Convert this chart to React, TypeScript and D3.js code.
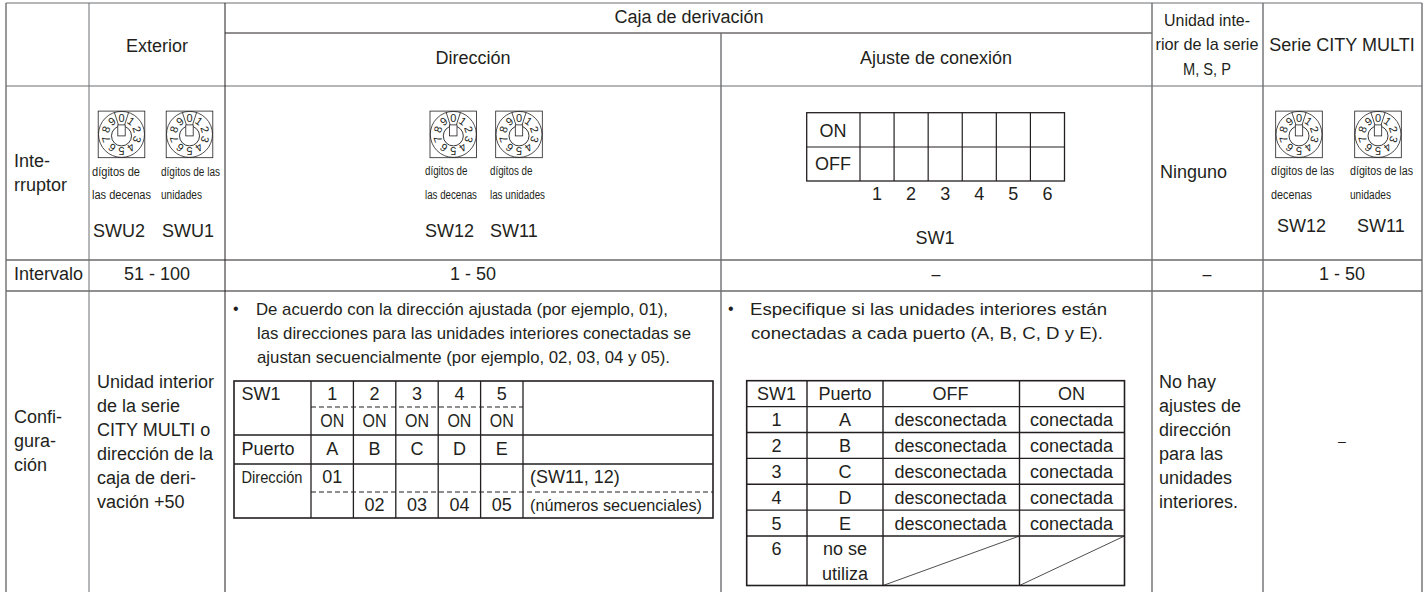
import * as d3 from "d3";

const W = 1428;
const H = 592;
const INK = "#231f20";
const GREY = "#6d6e70";
const FONT = "'Liberation Sans', Arial, sans-serif";

// table content
const dialDigits = ["0", "1", "2", "3", "4", "5", "6", "7", "8", "9"];
const switchNumbers = ["1", "2", "3", "4", "5", "6"];
const swColumns = ["1", "2", "3", "4", "5"];
const swPorts = ["A", "B", "C", "D", "E"];
const swAddressRow = ["02", "03", "04", "05"];
const portRows = ["1", "2", "3", "4", "5"];
const noteAddress = [
  "De acuerdo con la dirección ajustada (por ejemplo, 01),",
  "las direcciones para las unidades interiores conectadas se",
  "ajustan secuencialmente (por ejemplo, 02, 03, 04 y 05).",
];
const noteConnection = [
  "Especifique si las unidades interiores están",
  "conectadas a cada puerto (A, B, C, D y E).",
];
const outdoorConfig = ["Unidad interior", "de la serie", "CITY MULTI o", "dirección de la", "caja de deri-", "vación +50"];
const configLabel = ["Confi-", "gura-", "ción"];
const indoorConfig = ["No hay", "ajustes de", "dirección", "para las", "unidades", "interiores."];
const indoorHeader = ["Unidad inte-", "rior de la serie", "M, S, P"];

// page grid
const colKeys = ["left", "exterior", "caja", "ajuste", "indoor", "city", "right"];
const colEdges = [6, 89, 225, 721, 1152, 1263, 1422];
const rowKeys = ["top", "sub", "head", "switch", "range", "bottom"];
const rowEdges = [3, 33, 86, 260, 291, H];
const cx = d3.scaleOrdinal<string, number>(colKeys, colEdges);
const cy = d3.scaleOrdinal<string, number>(rowKeys, rowEdges);

// nested tables
const swX = d3.scaleBand<string>(swColumns, [311, 523]);
const portY = d3.scaleLinear([0, 6], [380.7, 536]);
const dipX = d3.scaleBand<string>(switchNumbers, [860, 1064.5]);
const angle = d3.scaleBand<string>(dialDigits, [-Math.PI / 10, 2 * Math.PI - Math.PI / 10]);

function T({ x, y, size = 18, anchor = "start", width, children }: any) {
  return (
    <text
      x={x}
      y={y}
      fontSize={size}
      textAnchor={anchor}
      fill={INK}
      fontFamily={FONT}
      {...(width ? { textLength: width, lengthAdjust: "spacingAndGlyphs" } : {})}
    >
      {children}
    </text>
  );
}

function L({ x1, y1, x2, y2, w = 1, c = INK, dash }: any) {
  return <line x1={x1} y1={y1} x2={x2} y2={y2} stroke={c} strokeWidth={w} strokeDasharray={dash} />;
}

function Dial({ x, y }: { x: number; y: number }) {
  const r = 23;
  return (
    <g transform={`translate(${x},${y})`}>
      <rect x={-23.3} y={-23.3} width={46.6} height={46.6} fill="#fff" stroke={INK} strokeWidth={0.8} />
      <circle r={r} fill="none" stroke={INK} strokeWidth={0.8} />
      <circle cy={1.5} r={10} fill="none" stroke={INK} strokeWidth={0.9} />
      {[0, 1].map((i) => {
        const a = angle(dialDigits[i])!;
        const [x0, y0] = d3.pointRadial(a, 10);
        const [x1, y1] = d3.pointRadial(a, r);
        return <L key={i} x1={x0} y1={y0} x2={x1} y2={y1} w={0.8} />;
      })}
      <rect x={-3.7} y={-9.5} width={7.4} height={11} fill="#fff" stroke={INK} strokeWidth={0.8} />
      {dialDigits.map((d) => {
        const a = angle(d)! + angle.bandwidth() / 2;
        const [px, py] = d3.pointRadial(a, 16.3);
        return (
          <text
            key={d}
            transform={`translate(${px},${py}) rotate(${(a * 180) / Math.PI})`}
            textAnchor="middle"
            dy="0.36em"
            fontSize={11}
            fill={INK}
            fontFamily={FONT}
          >
            {d}
          </text>
        );
      })}
    </g>
  );
}

export default function App() {
  const rowBottoms = d3.range(portRows.length + 1);
  const tableLeft = 234;
  const tableRight = 713;
  const portCols = [746.7, 807, 883, 1019.5, 1124.5];
  const sw1Rows = [381, 435, 464, 518];
  const noteAddressWidths = [412, 434, 413];
  const noteConnectionWidths = [357, 352];
  return (
    <svg width={W} height={H} style={{ position: "absolute", left: 0, top: 0, background: "#fff" }}>
      {/* main grid */}
      <L x1={cx("left")} y1={cy("top")} x2={cx("right")} y2={cy("top")} w={1.2} c={GREY} />
      <L x1={cx("caja")} y1={cy("sub")} x2={cx("indoor")} y2={cy("sub")} c={INK} />
      <L x1={cx("left")} y1={cy("head")} x2={cx("right")} y2={cy("head")} w={1.2} c={GREY} />
      <L x1={cx("left")} y1={cy("switch")} x2={cx("right")} y2={cy("switch")} />
      <L x1={cx("left")} y1={cy("range")} x2={cx("right")} y2={cy("range")} />
      {colKeys.map((k) => (
        <L
          key={k}
          x1={cx(k)}
          y1={k === "ajuste" ? cy("sub") : cy("top")}
          x2={cx(k)}
          y2={cy("bottom")}
          w={k === "exterior" || k === "caja" ? 1 : 1.4}
          c={k === "caja" ? INK : GREY}
        />
      ))}

      {/* header */}
      <T x={157} y={52} anchor="middle">Exterior</T>
      <T x={689} y={23} anchor="middle">Caja de derivación</T>
      <T x={473} y={64} anchor="middle">Dirección</T>
      <T x={936} y={64} anchor="middle">Ajuste de conexión</T>
      {indoorHeader.map((s, i) => (
        <T key={s} x={1207} y={[26, 50, 75][i]} anchor="middle" size={17} width={[86, 103, 48][i]}>{s}</T>
      ))}
      <T x={1342} y={51} anchor="middle">Serie CITY MULTI</T>

      {/* switch row */}
      <T x={14} y={167}>Inte-</T>
      <T x={14} y={191}>rruptor</T>
      <Dial x={121.5} y={134.4} />
      <Dial x={189.5} y={134.4} />
      <Dial x={453.3} y={134.4} />
      <Dial x={519} y={134.4} />
      <Dial x={1299} y={134.4} />
      <Dial x={1378} y={134.4} />
      <T x={92} y={176} size={12.5} width={48}>dígitos de</T>
      <T x={92} y={199} size={12.5} width={59}>las decenas</T>
      <T x={161} y={176} size={12.5} width={59}>dígitos de las</T>
      <T x={161} y={199} size={12.5} width={41}>unidades</T>
      <T x={93} y={237}>SWU2</T>
      <T x={162} y={237}>SWU1</T>
      <T x={425} y={175} size={12.5} width={42.5}>dígitos de</T>
      <T x={425} y={198.5} size={12.5} width={52}>las decenas</T>
      <T x={490} y={175} size={12.5} width={42.5}>dígitos de</T>
      <T x={490} y={198.5} size={12.5} width={55}>las unidades</T>
      <T x={425} y={237}>SW12</T>
      <T x={490} y={237}>SW11</T>
      <T x={1271} y={175} size={12.5} width={63}>dígitos de las</T>
      <T x={1271} y={199} size={12.5} width={41}>decenas</T>
      <T x={1350} y={175} size={12.5} width={63}>dígitos de las</T>
      <T x={1350} y={199} size={12.5} width={41}>unidades</T>
      <T x={1277} y={232}>SW12</T>
      <T x={1357} y={232}>SW11</T>
      <T x={1160} y={178}>Ninguno</T>

      {/* dip switch */}
      <rect x={806.7} y={112.7} width={dipX.range()[1] - 806.7} height={68.3} fill="none" stroke={INK} strokeWidth={1.3} />
      <L x1={806.7} y1={147} x2={dipX.range()[1]} y2={147} w={1.2} />
      {switchNumbers.map((n) => (
        <g key={n}>
          <L x1={dipX(n)} y1={112.7} x2={dipX(n)} y2={181} w={1.2} />
          <T x={dipX(n)! + dipX.bandwidth() / 2} y={200} anchor="middle">{n}</T>
        </g>
      ))}
      <T x={833} y={136.5} anchor="middle">ON</T>
      <T x={833} y={170} anchor="middle">OFF</T>
      <T x={935} y={244} anchor="middle">SW1</T>

      {/* range row */}
      <T x={14} y={280}>Intervalo</T>
      <T x={157} y={280} anchor="middle">51 - 100</T>
      <T x={473} y={280} anchor="middle">1 - 50</T>
      <T x={936} y={280} anchor="middle" size={16}>–</T>
      <T x={1207} y={280} anchor="middle" size={16}>–</T>
      <T x={1342} y={280} anchor="middle">1 - 50</T>

      {/* configuration row */}
      {configLabel.map((s, i) => (
        <T key={s} x={14} y={423 + i * 24}>{s}</T>
      ))}
      {outdoorConfig.map((s, i) => (
        <T key={s} x={97} y={388 + i * 24}>{s}</T>
      ))}
      <T x={233} y={314} size={16}>•</T>
      {noteAddress.map((s, i) => (
        <T key={s} x={i ? 257 : 256} y={315 + i * 24} size={17} width={noteAddressWidths[i]}>{s}</T>
      ))}
      <T x={728} y={314} size={16}>•</T>
      {noteConnection.map((s, i) => (
        <T key={s} x={i ? 751 : 750} y={315 + i * 24} size={17} width={noteConnectionWidths[i]}>{s}</T>
      ))}
      {indoorConfig.map((s, i) => (
        <T key={s} x={1159} y={388 + i * 24}>{s}</T>
      ))}
      <T x={1342} y={445.5} size={14} anchor="middle">–</T>

      {/* SW1 / address table */}
      <rect x={tableLeft} y={381} width={tableRight - tableLeft} height={137} fill="none" stroke={INK} strokeWidth={1.6} />
      {sw1Rows.slice(1, 3).map((y) => (
        <L key={y} x1={tableLeft} y1={y} x2={tableRight} y2={y} w={1.4} />
      ))}
      <L x1={swX.range()[0]} y1={407} x2={swX.range()[1]} y2={407} dash="5 3" />
      <L x1={swX.range()[0]} y1={492} x2={tableRight} y2={492} dash="5 3" />
      {swColumns.concat("end").map((c, i) => {
        const x = i < swColumns.length ? swX(c)! : swX.range()[1];
        return <L key={c} x1={x} y1={381} x2={x} y2={518} w={1.3} />;
      })}
      <T x={241.5} y={400}>SW1</T>
      <T x={241.5} y={455}>Puerto</T>
      <T x={241.5} y={483} size={16} width={61}>Dirección</T>
      {swColumns.map((c, i) => {
        const mid = swX(c)! + swX.bandwidth() / 2;
        return (
          <g key={c}>
            <T x={mid} y={400} anchor="middle">{c}</T>
            <T x={mid} y={427} anchor="middle" width={24}>ON</T>
            <T x={mid} y={455} anchor="middle">{swPorts[i]}</T>
            {i > 0 && <T x={mid} y={511} anchor="middle">{swAddressRow[i - 1]}</T>}
          </g>
        );
      })}
      <T x={swX("1")! + swX.bandwidth() / 2} y={483} anchor="middle">01</T>
      <T x={530} y={483}>(SW11, 12)</T>
      <T x={530} y={511} size={17} width={172}>(números secuenciales)</T>

      {/* port table */}
      <rect x={portCols[0]} y={380.7} width={portCols[4] - portCols[0]} height={204.8} fill="none" stroke={INK} strokeWidth={1.6} />
      {rowBottoms.map((i) => (
        <L key={i} x1={portCols[0]} y1={portY(i + 1)} x2={portCols[4]} y2={portY(i + 1)} w={1.4} />
      ))}
      {portCols.slice(1, 4).map((x) => (
        <L key={x} x1={x} y1={380.7} x2={x} y2={585.5} w={1.4} />
      ))}
      <T x={776.5} y={400} anchor="middle">SW1</T>
      <T x={845} y={400} anchor="middle">Puerto</T>
      <T x={950.5} y={400} anchor="middle">OFF</T>
      <T x={1071.5} y={400} anchor="middle">ON</T>
      {portRows.map((r, i) => (
        <g key={r}>
          <T x={776.5} y={portY(i) + 45.5} anchor="middle">{r}</T>
          <T x={845} y={portY(i) + 45.5} anchor="middle">{swPorts[i]}</T>
          <T x={950.5} y={portY(i) + 45.5} anchor="middle">desconectada</T>
          <T x={1071.5} y={portY(i) + 45.5} anchor="middle">conectada</T>
        </g>
      ))}
      <T x={776.5} y={555} anchor="middle">6</T>
      <T x={845} y={555} anchor="middle">no se</T>
      <T x={845} y={580} anchor="middle">utiliza</T>
      <L x1={883} y1={585.5} x2={1019.5} y2={536} w={0.8} />
      <L x1={1019.5} y1={585.5} x2={1124.5} y2={536} w={0.8} />
    </svg>
  );
}
